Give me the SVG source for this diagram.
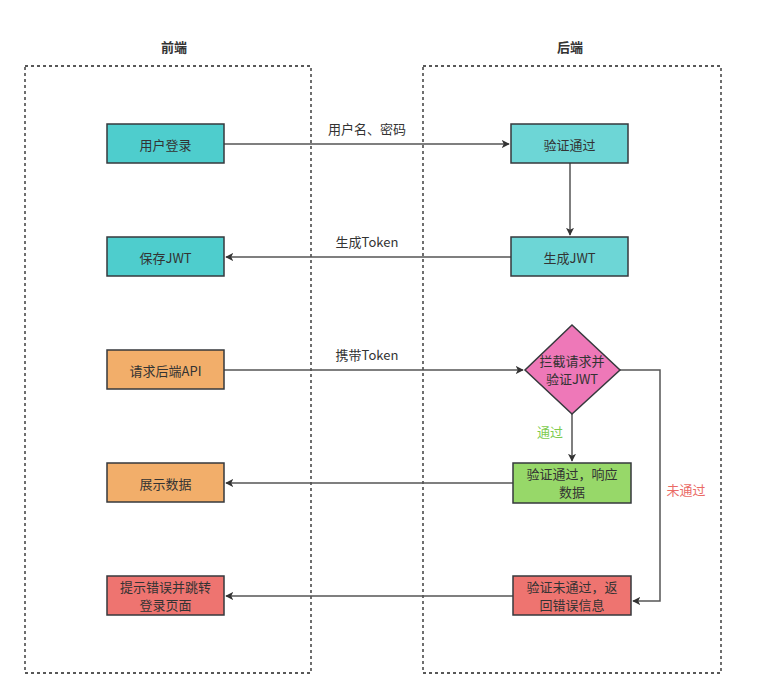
<svg xmlns="http://www.w3.org/2000/svg" width="761" height="699" viewBox="0 0 761 699">
<defs>
<style>
text{font-family:"Noto Sans CJK SC","Liberation Sans",sans-serif;font-size:13px;fill:#333;text-anchor:middle;dominant-baseline:central}
.title{font-weight:bold;font-size:13px}
.box{stroke:#36393d;stroke-width:1.5}
.ctr{fill:none;stroke:#222;stroke-width:1.3;stroke-dasharray:3 3}
.edge{fill:none;stroke:#555;stroke-width:1.5}
.cyan{fill:#4ECDCD}
.cyan2{fill:#6DD6D6}
.orange{fill:#F2AE6A}
.pink{fill:#EE78B8}
.green{fill:#97D869}
.red{fill:#EE7470}
</style>
<marker id="arr" viewBox="0 0 10 10" refX="9" refY="5" markerWidth="8" markerHeight="8" markerUnits="userSpaceOnUse" orient="auto">
<path d="M0,0 L10,5 L0,10 L2.5,5 Z" fill="#333"/>
</marker>
</defs>
<rect width="761" height="699" fill="#fff"/>
<g id="containers">
<rect class="ctr" x="25" y="66" width="286" height="607"/>
<rect class="ctr" x="423" y="66" width="298" height="607"/>
<text class="title" x="174" y="46">前端</text>
<text class="title" x="570" y="46">后端</text>
</g>
<g id="connectors">
<path class="edge" d="M224,144 L509,144" marker-end="url(#arr)"/>
<text x="367" y="128">用户名、密码</text>
<path class="edge" d="M570,163 L570,235" marker-end="url(#arr)"/>
<path class="edge" d="M511,257 L226,257" marker-end="url(#arr)"/>
<text x="367" y="241">生成Token</text>
<path class="edge" d="M224,370 L523,370" marker-end="url(#arr)"/>
<text x="367" y="354">携带Token</text>
<path class="edge" d="M572,414 L572,461" marker-end="url(#arr)"/>
<text x="550" y="431" style="fill:#7DCB4E">通过</text>
<path class="edge" d="M620,370 L660,370 L660,601 L633,601" marker-end="url(#arr)"/>
<text x="686" y="489" style="fill:#EA6B66">未通过</text>
<path class="edge" d="M513,483 L226,483" marker-end="url(#arr)"/>
<path class="edge" d="M513,596 L226,596" marker-end="url(#arr)"/>
</g>
<g id="n1"><rect class="box cyan" x="107" y="124" width="117" height="39"/><text x="165.5" y="144">用户登录</text></g>
<g id="n2"><rect class="box cyan" x="107" y="237" width="117" height="39"/><text x="165.5" y="257">保存JWT</text></g>
<g id="n3"><rect class="box orange" x="107" y="350" width="117" height="39"/><text x="165.5" y="370">请求后端API</text></g>
<g id="n4"><rect class="box orange" x="107" y="463" width="117" height="39"/><text x="165.5" y="483">展示数据</text></g>
<g id="n5"><rect class="box red" x="107" y="576" width="117" height="39"/><text x="165.5" y="586.5">提示错误并跳转</text><text x="165.5" y="604.5">登录页面</text></g>
<g id="n6"><rect class="box cyan2" x="511" y="124" width="117" height="39"/><text x="569.5" y="144">验证通过</text></g>
<g id="n7"><rect class="box cyan2" x="511" y="237" width="117" height="39"/><text x="569.5" y="257">生成JWT</text></g>
<g id="n8"><path class="box pink" d="M572,325 L620,370 L572,414 L525,370 Z"/><text x="572" y="360.5">拦截请求并</text><text x="572" y="378.5">验证JWT</text></g>
<g id="n9"><rect class="box green" x="513" y="463" width="118" height="40"/><text x="572" y="473.5">验证通过，响应</text><text x="572" y="491.5">数据</text></g>
<g id="n10"><rect class="box red" x="513" y="576" width="118" height="39"/><text x="572" y="586.5">验证未通过，返</text><text x="572" y="604.5">回错误信息</text></g>
</svg>
